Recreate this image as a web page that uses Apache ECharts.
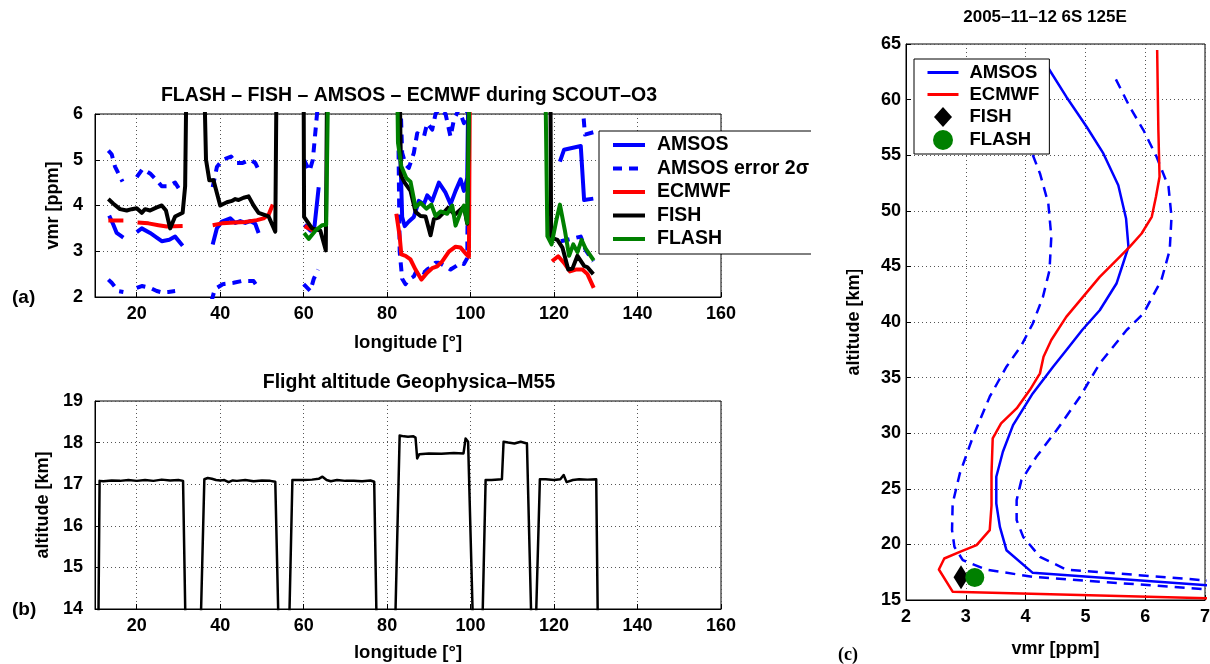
<!DOCTYPE html>
<html><head><meta charset="utf-8">
<script src="https://cdn.jsdelivr.net/npm/echarts@6/dist/echarts.min.js"></script>
<style>html,body{margin:0;padding:0;background:#fff}#c{width:1210px;height:664px}</style>
</head><body><div id="c"></div><script>
// ---------- Panel (a): vmr along flight track (null = gap) ----------
const aAmsosLon = [13.4,14.4,15.2,16.8,null,20,21.2,23.2,24.8,26,27.8,29.2,31,null,38.2,39.2,40.4,42.4,43.6,44.8,46,47.2,48.4,49.2,null,60.2,61.6,62.6,63.6,null,82.6,83.6,84.2,85.2,86.4,87.6,88.8,89.6,90.8,92.4,94,95.2,96.4,97.6,98.4,99.2,99.5,null,121.4,122.4,126.4,127.2,129.4];
const aAmsosVmr = [3.78,3.58,3.4,3.3,null,3.42,3.5,3.4,3.3,3.22,3.25,3.32,3.12,null,3.15,3.5,3.65,3.72,3.62,3.66,3.62,3.66,3.6,3.4,null,3.58,3.45,3.55,4.4,null,7,3.75,3.55,3.65,3.75,4.1,4.03,4.22,4.1,4.5,4.28,4.03,4.32,4.57,4.32,4.6,7,null,4.96,5.22,5.3,4.12,4.15];

const aErrUpLon = [13.2,14.0,14.8,16.6,null,20,21.4,23.2,24.8,26,27.6,29.2,30.6,null,38.2,39.2,40.6,42.6,43.8,45.4,47.2,48.4,49.2,null,60.1,61.4,62.2,63.4,64,null,82.6,83.6,84.4,85.2,86.4,87.2,88.8,89.6,90.8,91.6,92.4,94,95.2,96,97.2,98.4,99.2,99.5,null,121.4,122.4,126.4,127.4,129.4];
const aErrUpVmr = [5.2,5.12,4.85,4.52,null,4.62,4.8,4.7,4.55,4.42,4.42,4.5,4.3,null,4.4,4.84,5.0,5.07,4.93,4.93,5.0,4.93,4.78,null,5.0,4.75,5.0,6.2,7,null,8,5.15,4.9,4.82,5.15,5.58,5.5,5.8,5.66,6.0,6.1,6.0,5.5,5.88,6.1,5.8,6.05,8,null,6.4,6.6,6.7,5.55,5.6];

const aErrLoLon = [13.2,14.0,15.6,16.8,null,20,21.2,23.2,24.8,26,27.6,29.2,null,37.9,38.7,40.6,43.2,45.2,48,48.8,null,60,61.6,62.4,63.4,null,82.4,83,83.6,84.4,85.2,86.4,87.2,88.8,89.6,90.8,91.6,92.4,94,95.2,96.4,97.6,98.4,99.2,99.6,null,121.6,123.2,126.4,127.6,129.4];
const aErrLoVmr = [2.38,2.31,2.13,2.11,null,2.2,2.24,2.2,2.13,2.1,2.11,2.13,null,1.9,2.17,2.28,2.31,2.35,2.35,2.24,null,2.28,2.13,2.39,2.6,null,8,3.0,2.4,2.28,2.38,2.45,2.6,2.53,2.6,2.67,2.75,2.75,2.67,2.6,2.67,2.75,2.72,2.85,8,null,3.22,3.25,3.32,3.02,2.78];

const aEcmwfLon = [13.2,16.8,null,20.2,22.8,25.2,27.2,31,null,38.2,40.4,43.6,46,48.8,50.4,51.6,52.6,null,60.2,62.4,null,82.2,83,83.4,84.4,85.6,86.8,88.2,89.6,90.8,92,93.2,94.8,96.4,97.6,98.8,99.6,99.9,null,119.5,121,122.6,123.8,125.2,126.8,128,129.5];
const aEcmwfVmr = [3.67,3.67,null,3.63,3.61,3.57,3.54,3.55,null,3.57,3.61,3.63,3.64,3.68,3.72,3.8,4.02,null,3.55,3.45,null,3.82,3.33,2.93,2.9,2.82,2.6,2.38,2.53,2.63,2.67,2.78,2.99,3.1,3.08,2.95,2.88,8,null,2.78,2.89,2.72,2.56,2.6,2.6,2.5,2.2];

const aFishLon = [13.2,14.4,16,17.6,18.8,20,21.2,22,23.2,24.8,26,27,28,29.2,31,31.6,32.2,35.6,36.6,37.4,38.4,40,41.6,42.8,43.6,44.4,45.6,46.8,48,49.2,50.4,51.6,53.2,53.7,59.9,60.1,62,64,65.3,65.8,82.7,83.3,84.2,85.6,86.8,88,89.2,90.4,91.2,92.4,93.6,94.6,96.2,97.2,98.4,99.2,100,119.0,119.3,120.8,122,123.4,124.4,125.6,127.2,128,129.4];
const aFishVmr = [4.14,4.04,3.92,3.89,3.92,3.94,3.84,3.92,3.89,3.96,4.0,3.89,3.5,3.76,3.84,4.42,9,9,5.0,4.55,4.55,4.0,4.07,4.1,4.14,4.12,4.17,4.2,4.0,3.84,3.8,3.76,3.43,9,9,3.75,3.5,3.45,3.02,9,9,4.66,4.5,4.32,3.86,3.77,3.76,3.35,3.7,3.74,3.85,3.95,3.8,3.88,3.98,3.6,9,9,3.3,3.25,3.08,2.6,2.62,2.9,2.68,2.65,2.5];

const aFlashLon = [60.1,61.2,62.8,64.4,65.4,66.2,82.1,82.6,83.4,84.6,85.6,86.8,88,89.4,90.6,91.6,92.8,94.4,95.6,96.4,97.6,98.4,99.2,100.1,117.6,118.4,119.4,120.6,121.4,122.6,123.6,124.6,125.6,126.6,127.6,129.5];
const aFlashVmr = [3.4,3.27,3.45,3.57,3.58,9,9,5.37,4.86,4.6,4.52,3.96,4.06,3.93,4.02,3.77,3.87,3.82,4.0,3.56,3.85,4.0,3.62,9,9,3.33,3.15,3.7,4.02,3.45,2.9,3.15,2.98,3.25,3.05,2.8];

// ---------- Panel (b): flight altitude ----------
const bLon = [10.8,11.1,12,14,16,18,20,22,24,26,28,30,31.1,31.7,null,35.3,36.2,37,38,39,40,41,42,43,44,46,48,50,52,53.2,54,null,56.5,57.3,58,60,62,63.6,64.5,65.5,66.5,68,70,72,74,76,76.9,77.5,null,81.9,83.0,84,85,86.3,86.8,87.2,87.7,90,93,96,98.3,98.8,99.4,100.6,null,102.8,103.6,105,107.5,107.9,109,110.5,112,113.5,114.6,null,115.6,116.6,118,120,121.5,122.3,123,124.5,126,128,130.1,130.5];
const bAlt = [13.5,17.08,17.07,17.09,17.08,17.1,17.08,17.1,17.08,17.11,17.09,17.1,17.08,13.5,null,13.5,17.12,17.15,17.13,17.1,17.09,17.1,17.05,17.09,17.08,17.1,17.07,17.09,17.08,17.06,13.5,null,13.5,17.1,17.1,17.1,17.11,17.13,17.18,17.1,17.07,17.1,17.08,17.08,17.07,17.09,17.06,13.5,null,13.5,18.17,18.15,18.14,18.15,18.12,17.62,17.72,17.74,17.73,17.75,17.74,18.1,18.02,13.5,null,13.5,17.1,17.1,17.12,18.02,18.0,17.98,18.02,17.98,13.5,null,13.5,17.12,17.12,17.1,17.12,17.22,17.05,17.1,17.12,17.11,17.12,13.5];

// ---------- Panel (c): profile 2005-11-12 6S 125E ----------
const cAmsosVmr = [4.35,4.40,4.68,5.02,5.30,5.55,5.68,5.72,5.63,5.52,5.24,4.95,4.68,4.46,4.12,3.79,3.62,3.51,3.51,3.57,3.68,4.12,7.05];
const cAmsosAlt = [63.2,62.66,60.26,57.56,55.16,52.3,49.3,46.76,45.26,43.46,41.06,39.3,37.46,35.98,33.58,30.73,28.33,26.08,23.68,21.58,19.48,17.44,16.33];
const cErrLoVmr = [4.0,4.11,4.24,4.38,4.43,4.40,4.29,4.12,3.93,3.68,3.40,3.12,2.90,2.78,2.77,2.81,2.95,3.34,4.12,7.05];
const cErrLoAlt = [58,55.16,53.36,50.66,47.66,44.66,42.26,39.86,37.9,35.98,33.28,29.68,26.38,23.68,21.28,19.78,18.58,17.74,17.08,15.95];
const cErrUpVmr = [5.51,5.74,5.97,6.19,6.39,6.44,6.41,6.27,5.97,5.69,5.24,4.91,4.52,4.18,3.93,3.85,3.85,3.96,4.24,4.68,7.05];
const cErrUpAlt = [61.82,59.36,57.26,54.86,52.16,49.46,46.46,43.76,40.76,39.28,36.28,33.28,30.28,27.88,25.78,23.98,22.18,20.68,18.88,17.74,16.75];
const cEcmwfVmr = [6.20,6.22,6.24,6.18,6.11,5.94,5.74,5.52,5.24,4.96,4.68,4.43,4.30,4.24,4.07,3.85,3.59,3.45,3.43,3.43,3.40,3.18,2.90,2.64,2.55,2.78,7.05];
const cEcmwfAlt = [64.46,57.26,53.06,51.26,49.46,47.96,46.76,45.56,44.06,42.26,40.46,38.38,36.88,35.38,33.88,32.23,30.88,29.53,26.38,23.5,21.28,19.93,19.33,18.73,17.74,15.75,15.15];
const cFish = [2.92, 17.05];
const cFlash = [3.15, 17.02];

// ---------- tick settings ----------
const lonMin = 10, lonMax = 160, lonStep = 20;

function zip(xs, ys){ return xs.map((x,i)=>[x, ys[i]]); }

const FONT = "'Liberation Sans', Arial, Helvetica, sans-serif";
function lbl(size){ return {color:'#000', fontFamily:FONT, fontWeight:'bold', fontSize:size}; }
const dotted = {show:true, lineStyle:{color:'#555', width:1, type:[1,3]}};
const axLine = {show:true, lineStyle:{color:'#000', width:1}};
const tick = {show:true, inside:true, length:5, lineStyle:{color:'#000'}};

const BLUE='#0000ff', RED='#ff0000', BLACK='#000000', GREEN='#008000';

function lineSeries(name, data, color, width, xi, dashed, z){
  return {type:'line', name, data, xAxisIndex:xi, yAxisIndex:xi, symbol:'none', showSymbol:false,
    connectNulls:false, clip:true, z:z||2, silent:true,
    lineStyle:{color, width, type: dashed ? dashed : 'solid', cap:'butt', join:'round'}, itemStyle:{color}};
}
function noSym(name){ return {name:name, itemStyle:{opacity:0}}; }

const chart = echarts.init(document.getElementById('c'), null, {renderer:'canvas'});
const option = {
  animation:false,
  backgroundColor:'#fff',
  title:[
    {text:'FLASH – FISH – AMSOS – ECMWF during SCOUT–O3', left:409, top:86, textAlign:'center', padding:0, textStyle:lbl(19.5)},
    {text:'Flight altitude Geophysica–M55', left:409, top:373, textAlign:'center', padding:0, textStyle:lbl(19.5)},
    {text:'2005–11–12 6S 125E', left:1045, top:9, textAlign:'center', padding:0, textStyle:lbl(17)},
    {text:'(a)', left:12, top:288, padding:0, textStyle:lbl(19)},
    {text:'(b)', left:12, top:600, padding:0, textStyle:lbl(19)},
    {text:'(c)', left:838, top:646, padding:0, textStyle:{color:'#000', fontFamily:"'Liberation Serif', 'DejaVu Serif', serif", fontWeight:'bold', fontSize:18}}
  ],
  legend:[
    {left:599, top:131, orient:'vertical', selectedMode:false,
     data:[noSym('AMSOS'),noSym('AMSOS error 2σ'),noSym('ECMWF'),noSym('FISH'),noSym('FLASH')],
     itemWidth:32, itemHeight:14, itemGap:3.5, padding:[4,10,5,12],
     lineStyle:{width:4},
     borderColor:'#000', borderWidth:1, backgroundColor:'#fff', borderRadius:0,
     textStyle:Object.assign(lbl(19.5), {padding:[0,0,0,7]})},
    {left:914, top:59, orient:'vertical', selectedMode:false,
     data:[noSym('c_AMSOS'),noSym('c_ECMWF'),
           {name:'c_FISH', icon:'path://M9,0 L18,10 L9,20 L0,10 Z', itemStyle:{color:BLACK, opacity:1}},
           {name:'c_FLASH', icon:'circle', itemStyle:{color:GREEN, opacity:1}}],
     formatter:function(n){return n.slice(2);},
     itemWidth:31, itemHeight:20, itemGap:3, padding:[4,10,4,12], symbolKeepAspect:true,
     lineStyle:{width:3},
     borderColor:'#000', borderWidth:1, backgroundColor:'#fff', borderRadius:0,
     textStyle:Object.assign(lbl(18.5), {padding:[0,0,0,6]})}
  ],
  graphic:[
    {type:'rect', left:811, top:120, shape:{width:60, height:150}, style:{fill:'#fff'}, z:100, silent:true}
  ],
  grid:[
    {left:95, top:114, width:626, height:183, show:true, borderColor:'#000', borderWidth:1, outerBoundsMode:'none'},
    {left:95, top:401, width:626, height:208, show:true, borderColor:'#000', borderWidth:1, outerBoundsMode:'none'},
    {left:906, top:44, width:299, height:556, show:true, borderColor:'#000', borderWidth:1, outerBoundsMode:'none'}
  ],
  xAxis:[
    {gridIndex:0, type:'value', min:lonMin, max:lonMax, minInterval:lonStep, maxInterval:lonStep, splitNumber:8,
     axisLabel:Object.assign(lbl(18), {margin:8, showMinLabel:false}), axisLine:axLine, axisTick:tick, splitLine:dotted,
     name:'longitude [°]', nameLocation:'middle', nameGap:36, nameTextStyle:lbl(18.5)},
    {gridIndex:1, type:'value', min:lonMin, max:lonMax, minInterval:lonStep, maxInterval:lonStep, splitNumber:8,
     axisLabel:Object.assign(lbl(18), {margin:8, showMinLabel:false}), axisLine:axLine, axisTick:tick, splitLine:dotted,
     name:'longitude [°]', nameLocation:'middle', nameGap:34, nameTextStyle:lbl(18.5)},
    {gridIndex:2, type:'value', min:2, max:7, interval:1,
     axisLabel:Object.assign(lbl(18), {margin:8}), axisLine:axLine, axisTick:tick, splitLine:dotted,
     name:'vmr [ppm]', nameLocation:'middle', nameGap:40, nameTextStyle:lbl(18)}
  ],
  yAxis:[
    {gridIndex:0, type:'value', min:2, max:6, interval:1,
     axisLabel:Object.assign(lbl(18), {margin:12}), axisLine:axLine, axisTick:tick, splitLine:dotted,
     name:'vmr [ppm]', nameLocation:'middle', nameGap:33, nameRotate:90, nameTextStyle:lbl(18)},
    {gridIndex:1, type:'value', min:14, max:19, interval:1,
     axisLabel:Object.assign(lbl(18), {margin:12}), axisLine:axLine, axisTick:tick, splitLine:dotted,
     name:'altitude [km]', nameLocation:'middle', nameGap:33, nameRotate:90, nameTextStyle:lbl(18)},
    {gridIndex:2, type:'value', min:15, max:65, interval:5,
     axisLabel:Object.assign(lbl(18), {margin:5}), axisLine:axLine, axisTick:tick, splitLine:dotted,
     name:'altitude [km]', nameLocation:'middle', nameGap:43, nameRotate:90, nameTextStyle:lbl(18)}
  ],
  series:[
    lineSeries('AMSOS', zip(aAmsosLon, aAmsosVmr), BLUE, 4, 0, null, 2),
    lineSeries('AMSOS error 2σ', zip(aErrUpLon, aErrUpVmr), BLUE, 4, 0, [9,7], 2),
    lineSeries('AMSOS error 2σ', zip(aErrLoLon, aErrLoVmr), BLUE, 4, 0, [9,7], 2),
    lineSeries('ECMWF', zip(aEcmwfLon, aEcmwfVmr), RED, 4, 0, null, 3),
    lineSeries('FISH', zip(aFishLon, aFishVmr), BLACK, 4, 0, null, 4),
    lineSeries('FLASH', zip(aFlashLon, aFlashVmr), GREEN, 4, 0, null, 5),

    lineSeries('altitude', zip(bLon, bAlt), BLACK, 2.5, 1, null, 2),

    lineSeries('c_AMSOS', zip(cAmsosVmr, cAmsosAlt), BLUE, 2.5, 2, null, 2),
    lineSeries('c_AMSOS_err', zip(cErrLoVmr, cErrLoAlt), BLUE, 2.5, 2, [10,7], 2),
    lineSeries('c_AMSOS_err', zip(cErrUpVmr, cErrUpAlt), BLUE, 2.5, 2, [10,7], 2),
    lineSeries('c_ECMWF', zip(cEcmwfVmr, cEcmwfAlt), RED, 2.5, 2, null, 3),
    {type:'scatter', name:'c_FISH', xAxisIndex:2, yAxisIndex:2, data:[cFish], symbol:'diamond', symbolSize:[15,24], itemStyle:{color:BLACK, opacity:1}, z:4, silent:true},
    {type:'scatter', name:'c_FLASH', xAxisIndex:2, yAxisIndex:2, data:[cFlash], symbol:'circle', symbolSize:19, itemStyle:{color:GREEN, opacity:1}, z:5, silent:true}
  ]
};
chart.setOption(option);
</script></body></html>
